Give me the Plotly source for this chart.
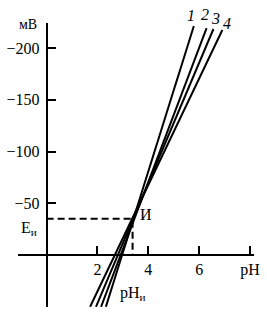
import plotly.graph_objects as go

# ---- data ----
line_names = ["1", "2", "3", "4"]
ph_bottom = [2.33, 2.14, 1.94, 1.71]
mv_bottom = [50, 50, 50, 50]
ph_top = [5.79, 6.29, 6.56, 6.91]
mv_top = [-221.3, -219.3, -218.4, -217.4]

ph_iso = 3.38      # pH_и
mv_iso = -35       # E_и

x_tickvals = [2, 4, 6, 8]
x_ticktext = ["2", "4", "6", "pH"]
y_tickvals = [-200, -150, -100, -50]
y_ticktext = ["\u2212200", "\u2212150", "\u2212100", "\u221250"]

x_range = [-1.126, 8.155]
y_range = [50.2, -224.2]   # bottom, top (more negative upward)

FONT = "Liberation Serif"
fig = go.Figure()

for name, x0, y0, x1, y1 in zip(line_names, ph_bottom, mv_bottom, ph_top, mv_top):
    fig.add_trace(go.Scatter(x=[x0, x1], y=[y0, y1], mode="lines",
                             line=dict(color="black", width=2), showlegend=False,
                             hoverinfo="skip", name=name))

# dashed guides to the isopotential point
fig.add_trace(go.Scatter(x=[0, ph_iso, ph_iso], y=[mv_iso, mv_iso, 0], mode="lines",
                         line=dict(color="black", width=2, dash="7px,4px"),
                         showlegend=False, hoverinfo="skip"))

x_pos = (y_range[0] - 0) / (y_range[0] - y_range[1])
y_pos = (0 - x_range[0]) / (x_range[1] - x_range[0])

fig.update_layout(
    width=267, height=313,
    margin=dict(l=15, r=13, t=23, b=6),
    paper_bgcolor="white", plot_bgcolor="white",
    font=dict(family=FONT, size=16, color="black"),
    xaxis=dict(range=x_range, anchor="free", position=x_pos, showline=True,
               linecolor="black", linewidth=2, showgrid=False, zeroline=False,
               tickvals=x_tickvals, ticktext=x_ticktext, ticks="inside",
               ticklen=8, tickwidth=1.5, tickcolor="black"),
    yaxis=dict(range=y_range, anchor="free", position=y_pos, showline=True,
               linecolor="black", linewidth=2, showgrid=False, zeroline=False,
               tickvals=y_tickvals, ticktext=y_ticktext, ticks="inside",
               ticklen=8, tickwidth=1.5, tickcolor="black", ticklabelstandoff=3),
    # extra axis carrying only the E_и tick
    yaxis2=dict(range=y_range, overlaying="y", anchor="free", position=y_pos,
                showline=False, showgrid=False, zeroline=False,
                tickvals=[mv_iso], showticklabels=False, ticks="inside",
                ticklen=8, tickwidth=1.5, tickcolor="black"),
)

# line numbers at top ends
shifts = [(-3, 11), (-2, 14), (2, 11), (5, 7)]
for name, x1, y1, (dx, dy) in zip(line_names, ph_top, mv_top, shifts):
    fig.add_annotation(x=x1, y=y1, text=f"<i>{name}</i>", showarrow=False,
                       xshift=dx, yshift=dy, font=dict(size=16))

fig.add_annotation(x=0, y=y_range[1], text="мВ", showarrow=False,
                   xshift=-19, yshift=-1, font=dict(size=14))
fig.add_annotation(x=0, y=mv_iso, text="E<sub>и</sub>", showarrow=False,
                   xshift=-18, yshift=-10, font=dict(size=16))
fig.add_annotation(x=ph_iso, y=mv_iso, text="И", showarrow=False,
                   xshift=13, yshift=4, font=dict(size=16))
fig.add_annotation(x=ph_iso, y=0, text="pH<sub>и</sub>", showarrow=False,
                   xshift=0, yshift=-38, font=dict(size=16))

fig.write_html("out.html")
